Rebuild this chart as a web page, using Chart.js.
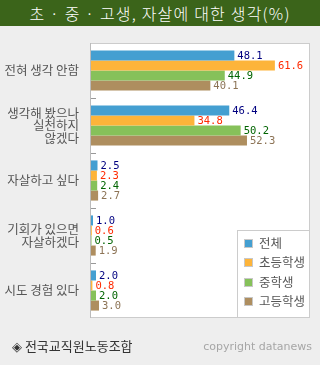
<!DOCTYPE html>
<html>
<head>
<meta charset="utf-8">
<script src="https://cdn.jsdelivr.net/npm/chart.js@4.4.0/dist/chart.umd.min.js"></script>
<style>
  body { margin: 0; background: #eeeeee; width: 320px; height: 365px; overflow: hidden; position: relative; font-family: "Noto Sans CJK KR", sans-serif; }
  #title { position: absolute; left: 0; top: 0; width: 320px; height: 26px; background: #3b641a; color: #fff; font-size: 16px; font-weight: 300; letter-spacing: 1.2px; line-height: 26px; text-align: center; }
  #wrap { position: absolute; left: 0; top: 0; width: 320px; height: 365px; }
  #src { position: absolute; left: 12px; top: 337px; font-size: 13px; color: #333; line-height: 18px; }
  #copy { position: absolute; right: 8px; top: 338px; font-size: 11px; color: #a6a6a6; font-family: "DejaVu Sans", sans-serif; line-height: 18px; }
</style>
</head>
<body>
<div id="title">초 · 중 · 고생, 자살에 대한 생각(%)</div>
<div id="wrap"><canvas id="chart"></canvas></div>
<div id="src">◈ 전국교직원노동조합</div>
<div id="copy">copyright datanews</div>
<script>
const categories = [
  ['전혀 생각 안함'],
  ['생각해 봤으나', '실천하지', '않겠다'],
  ['자살하고 싶다'],
  ['기회가 있으면', '자살하겠다'],
  ['시도 경험 있다']
];
const seriesNames = ['전체', '초등학생', '중학생', '고등학생'];
const total = [48.1, 46.4, 2.5, 1.0, 2.0];
const elementary = [61.6, 34.8, 2.3, 0.6, 0.8];
const middle = [44.9, 50.2, 2.4, 0.5, 2.0];
const high = [40.1, 52.3, 2.7, 1.9, 3.0];

const barColors = ['#449fd1', '#fdb43a', '#86c15a', '#ae8e5f'];
const labelColors = ['#000080', '#ff2a00', '#006400', '#8c7355'];

// white plot area, border, tick marks, value labels, legend
const decor = {
  id: 'decor',
  beforeDatasetsDraw(chart) {
    const {ctx, chartArea: a} = chart;
    ctx.save();
    ctx.fillStyle = '#fff';
    ctx.fillRect(a.left, a.top, a.right - a.left, a.bottom - a.top);
    ctx.restore();
  },
  afterDatasetsDraw(chart) {
    const {ctx, chartArea: a} = chart;
    const y = chart.scales.y;
    ctx.save();
    ctx.strokeStyle = '#cccccc';
    ctx.lineWidth = 1;
    ctx.strokeRect(a.left + 0.5, a.top + 0.5, a.right - a.left - 1, a.bottom - a.top - 1);
    ctx.strokeStyle = '#bbbbbb';
    ctx.beginPath();
    ctx.moveTo(a.left + 0.5, a.top);
    ctx.lineTo(a.left + 0.5, a.bottom);
    ctx.stroke();
    ctx.strokeStyle = '#999';
    for (let i = 0; i < categories.length - 1; i++) {
      const py = Math.round((y.getPixelForValue(i) + y.getPixelForValue(i + 1)) / 2) + 0.5;
      ctx.beginPath();
      ctx.moveTo(a.left + 1, py);
      ctx.lineTo(a.left + 6, py);
      ctx.stroke();
    }

    ctx.font = '10.5px "DejaVu Sans Mono", monospace';
    ctx.textBaseline = 'middle';
    ctx.textAlign = 'left';
    chart.data.datasets.forEach((ds, di) => {
      chart.getDatasetMeta(di).data.forEach((bar, i) => {
        ctx.fillStyle = labelColors[di];
        ctx.fillText(ds.data[i].toFixed(1), bar.x + 3, bar.y + 1);
      });
    });

    // legend box
    const lx = a.right - 73, ly = 230;
    ctx.fillStyle = '#fff';
    ctx.fillRect(lx, ly, a.right - lx, a.bottom - ly);
    ctx.strokeStyle = '#cccccc';
    ctx.strokeRect(lx + 0.5, ly + 0.5, a.right - lx - 1, a.bottom - ly - 1);
    ctx.font = '12.5px "Noto Sans CJK KR", sans-serif';
    seriesNames.forEach((name, i) => {
      const cy = ly + 13 + i * 19.5;
      ctx.fillStyle = '#c8c8c8';
      ctx.fillRect(lx + 7, Math.round(cy - 4.5), 9, 9);
      ctx.fillStyle = barColors[i];
      ctx.fillRect(lx + 8, Math.round(cy - 3.5), 7, 7);
      ctx.fillStyle = '#555';
      ctx.fillText(name, lx + 22, cy);
    });
    ctx.restore();
  }
};

const seriesData = [total, elementary, middle, high];

new Chart(document.getElementById('chart'), {
  type: 'bar',
  data: {
    labels: categories,
    datasets: seriesNames.map((name, i) => ({
      label: name,
      data: seriesData[i],
      backgroundColor: barColors[i],
      borderWidth: 0,
      categoryPercentage: 0.73,
      barPercentage: 1.0
    }))
  },
  options: {
    indexAxis: 'y',
    responsive: true,
    maintainAspectRatio: false,
    animation: false,
    layout: { padding: { top: 43, right: 10, bottom: 47, left: 0 } },
    plugins: { legend: { display: false }, tooltip: { enabled: false } },
    scales: {
      x: { display: false, min: 0, max: 73.3 },
      y: {
        grid: { display: false },
        border: { display: false },
        afterFit(scale) { scale.width = 90; },
        ticks: {
          color: '#555',
          padding: 3,
          font: { family: '"Noto Sans CJK KR", sans-serif', size: 12.5, lineHeight: 1.0 }
        }
      }
    }
  },
  plugins: [decor]
});
</script>
</body>
</html>
